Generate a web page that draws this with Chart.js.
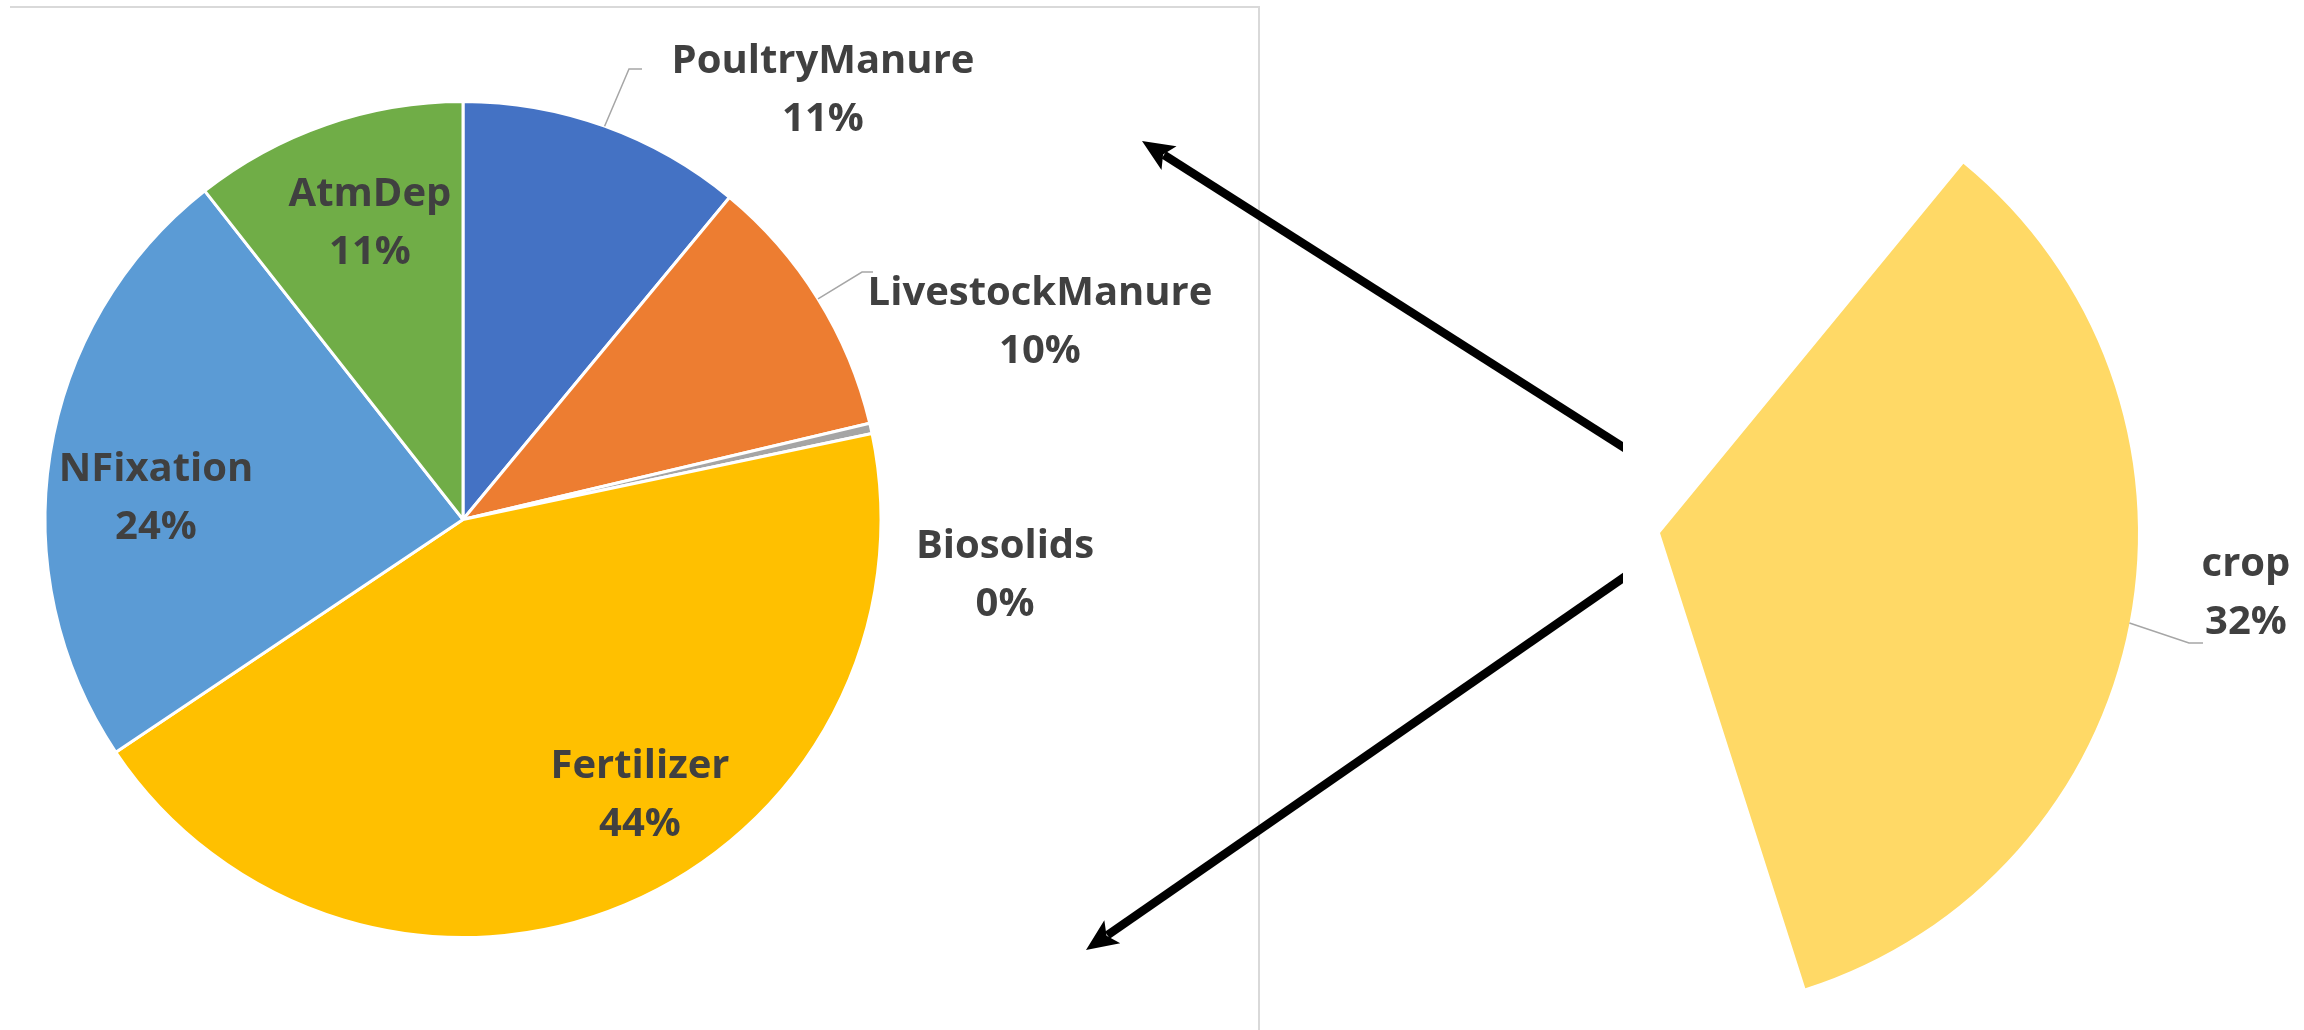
<!DOCTYPE html>
<html>
<head>
<meta charset="utf-8">
<script src="https://cdn.jsdelivr.net/npm/chart.js@4.4.1/dist/chart.umd.min.js"></script>
<style>
  html, body { margin: 0; padding: 0; background: #fff; }
  #stage { position: relative; width: 2304px; height: 1030px; overflow: hidden; }
  #stage canvas { position: absolute; left: 0; top: 0; }
  #frame { position: absolute; left: 10px; top: 6px; width: 1248px; height: 1040px;
           border-top: 2px solid #d9d9d9; border-right: 2px solid #d9d9d9; }
</style>
</head>
<body>
<div id="stage">
  <div id="frame"></div>
  <canvas id="inputs" width="2304" height="1030"></canvas>
  <canvas id="cropWedge" width="2304" height="1030"></canvas>
</div>
<script>
// N inputs (left pie), share in %
const sources = ['PoultryManure', 'LivestockManure', 'Biosolids', 'Fertilizer', 'NFixation', 'AtmDep'];
const sourceShares = [11.0, 10.3, 0.4, 43.9, 23.8, 10.6];
const sourceColors = ['#4472C4', '#ED7D31', '#A5A5A5', '#FFC000', '#5B9BD5', '#70AD47'];

// crop wedge (right)
const cropNames = ['crop'];
const cropShares = [32];
const cropColors = ['#FFD966'];

const FONT = 'bold 40px "Open Sans"';
const TEXT = '#404040';
const LINE_GAP = 58;

// label centres (first line) and leader elbows, page pixels
const inputLabelAt = {
  PoultryManure: [823, 62],
  LivestockManure: [1040, 294],
  Biosolids: [1005, 547],
  Fertilizer: [640, 767],
  NFixation: [156, 470],
  AtmDep: [370, 195]
};
const inputLeaders = {
  PoultryManure: [[629, 69], [642, 69]],
  LivestockManure: [[862, 272], [873, 272]]
};
const cropLabelAt = { crop: [2246, 565] };
const cropLeaders = { crop: [[2189, 643], [2203, 643]] };

const pct = v => Math.round(v) + '%';

function labelPlugin(names, values, at, leaders) {
  return {
    id: 'sliceLabels',
    afterDatasetsDraw(chart) {
      const ctx = chart.ctx;
      const arcs = chart.getDatasetMeta(0).data;
      ctx.save();
      arcs.forEach((arc, i) => {
        const name = names[i];
        const lead = leaders[name];
        if (lead) {
          const mid = (arc.startAngle + arc.endAngle) / 2;
          ctx.beginPath();
          ctx.moveTo(arc.x + Math.cos(mid) * arc.outerRadius, arc.y + Math.sin(mid) * arc.outerRadius);
          lead.forEach(p => ctx.lineTo(p[0], p[1]));
          ctx.strokeStyle = '#a6a6a6';
          ctx.lineWidth = 1.5;
          ctx.stroke();
        }
        const [x, y] = at[name];
        ctx.font = FONT;
        ctx.fillStyle = TEXT;
        ctx.textAlign = 'center';
        ctx.textBaseline = 'middle';
        ctx.fillText(name, x, y);
        ctx.fillText(pct(values[i]), x, y + LINE_GAP);
      });
      ctx.restore();
    }
  };
}

// the two arrows linking the wedge to the input pie
const arrows = [
  { from: [1623, 447], to: [1142, 141] },
  { from: [1623, 578], to: [1086, 950] }
];
const arrowPlugin = {
  id: 'arrows',
  afterDraw(chart) {
    const ctx = chart.ctx;
    ctx.save();
    ctx.beginPath();
    ctx.rect(0, 0, 1623, 1030);
    ctx.clip();
    arrows.forEach(a => {
      const [x0, y0] = a.from, [x1, y1] = a.to;
      const ang = Math.atan2(y1 - y0, x1 - x0);
      const head = 32, half = 14;
      const bx = x1 - Math.cos(ang) * head, by = y1 - Math.sin(ang) * head;
      ctx.beginPath();
      ctx.moveTo(x0 + Math.cos(ang) * -10, y0 + Math.sin(ang) * -10);
      ctx.lineTo(bx + Math.cos(ang) * 6, by + Math.sin(ang) * 6);
      ctx.strokeStyle = '#000';
      ctx.lineWidth = 8.5;
      ctx.stroke();
      ctx.beginPath();
      ctx.moveTo(x1, y1);
      ctx.lineTo(bx - Math.sin(ang) * half, by + Math.cos(ang) * half);
      ctx.lineTo(bx + Math.cos(ang) * 7, by + Math.sin(ang) * 7);
      ctx.lineTo(bx + Math.sin(ang) * half, by - Math.cos(ang) * half);
      ctx.closePath();
      ctx.fillStyle = '#000';
      ctx.fill();
    });
    ctx.restore();
  }
};

// left pie, centre (463, 519.5)
new Chart(document.getElementById('inputs'), {
  type: 'pie',
  data: {
    labels: sources,
    datasets: [{
      data: sourceShares,
      backgroundColor: sourceColors,
      borderColor: '#fff',
      borderWidth: 3
    }]
  },
  options: {
    responsive: false,
    animation: false,
    radius: 418,
    layout: { padding: { left: 0, right: 2304 - 926, top: 9, bottom: 0 } },
    plugins: { legend: { display: false }, tooltip: { enabled: false } }
  },
  plugins: [labelPlugin(sources, sourceShares, inputLabelAt, inputLeaders)]
});

// right wedge, centre (1660, 533)
const wedge = new Chart(document.getElementById('cropWedge'), {
  type: 'pie',
  data: {
    labels: cropNames,
    datasets: [{
      data: cropShares,
      backgroundColor: cropColors,
      borderWidth: 0
    }]
  },
  options: {
    responsive: false,
    animation: false,
    radius: 478,
    rotation: 39.4,
    circumference: 122.9,
    layout: { padding: { left: 1499, right: 0, top: 122, bottom: 0 } },
    plugins: { legend: { display: false }, tooltip: { enabled: false } }
  },
  plugins: [labelPlugin(cropNames, cropShares, cropLabelAt, cropLeaders), arrowPlugin]
});

// nudge the wedge so its apex sits where the reference has it
(function () {
  const arc = wedge.getDatasetMeta(0).data[0];
  const pad = wedge.options.layout.padding;
  const dx = 1660 - arc.x, dy = 533 - arc.y;
  if (dx >= 0) pad.left += 2 * dx; else pad.right -= 2 * dx;
  if (dy >= 0) pad.top += 2 * dy; else pad.bottom -= 2 * dy;
  wedge.update();
})();
</script>
</body>
</html>
